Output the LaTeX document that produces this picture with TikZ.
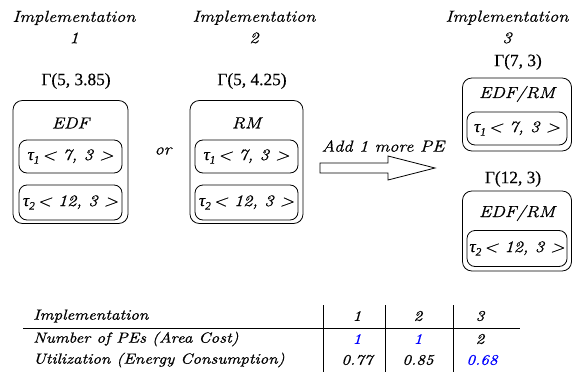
\documentclass[tikz,border=0pt]{standalone}
\usepackage{fontspec}
\usepackage{tikz}
\newfontfamily\lblfam[FakeStretch=1.15,FakeBold=0.6]{Latin Modern Roman}
\newfontfamily\grkfont[FakeBold=0.3]{Liberation Serif}
\usetikzlibrary{positioning}
\newlength{\pxu}
\setlength{\pxu}{0.75pt}
\newcommand{\lblfont}{\lblfam\fontsize{12}{16}\selectfont\itshape}
\newcommand{\tabfont}{\lblfam\fontsize{11}{12}\selectfont\itshape}
\newcommand{\gamfont}{\fontsize{13}{14}\selectfont\grkfont}
\newcommand{\gam}[2]{Γ(#1, #2)}
\newcommand{\tsk}[3]{{\grkfont\fontsize{13}{14}\selectfont τ\raisebox{-0.45ex}{\fontsize{8.5}{9}\selectfont #1}}\,\textit{< #2, #3 >}}
\newcommand{\hi}[1]{\textcolor{blue}{#1}}

\begin{document}
\begin{tikzpicture}[x=0.75pt,y=-0.75pt
  ,lbl/.style={font=\lblfont,align=center,inner sep=0pt}
  ,gam/.style={font=\gamfont,inner sep=0pt}
  ,pebox/.style={draw,semithick,rounded corners=7pt,inner sep=0pt}
  ,taskbox/.style={draw,semithick,rounded corners=6pt,inner sep=0pt,font=\lblfont}
  ,cell/.style={font=\tabfont,inner sep=0pt}]
  \useasboundingbox (0,0) rectangle (573,374);

  %% headers
  \node (i1) [lbl] at (74,27)  {Implementation\\1};
  \node (i2) [lbl] at (254,27) {Implementation\\2};
  \node (i3) [lbl] at (507,27) {Implementation\\3};

  %% implementation 1
  \node (g1) [gam] at (76,81) {\gam{5}{3.85}};
  \node (pe1) [pebox,minimum width=115\pxu,minimum height=123\pxu] at (70.5,162) {};
  \node (s1) [lbl] at (70.5,123) {EDF};
  \node (t11) [taskbox,minimum width=103\pxu,minimum height=33\pxu] at (70.5,156.5) {\tsk{1}{7}{3}};
  \node (t12) [taskbox,minimum width=103\pxu,minimum height=35\pxu] at (70.5,202.5) {\tsk{2}{12}{3}};

  \node (or) [lbl] at (163,151) {or};

  %% implementation 2
  \node (g2) [gam] at (252,81) {\gam{5}{4.25}};
  \node (pe2) [pebox,minimum width=113\pxu,minimum height=123\pxu] at (246.5,162) {};
  \node (s2) [lbl] at (246.5,123) {RM};
  \node (t21) [taskbox,minimum width=103\pxu,minimum height=33\pxu] at (246.5,156.5) {\tsk{1}{7}{3}};
  \node (t22) [taskbox,minimum width=103\pxu,minimum height=35\pxu] at (246.5,202.5) {\tsk{2}{12}{3}};

  %% the move
  \node (add) [lbl] at (383,146) {Add 1 more PE};
  \coordinate (ar) at (320,168);
  \draw [semithick] (ar) ++(0,-5) -- ++(68,0) -- ++(0,-7) -- ++(47,12)
    -- ++(-47,12) -- ++(0,-7) -- ++(-68,0) -- cycle;

  %% implementation 3
  \node (g3) [gam] at (518,62) {\gam{7}{3}};
  \node (pe3) [pebox,minimum width=109\pxu,minimum height=73\pxu] at (517,114.5) {};
  \node (s3) [lbl] at (517,94) {EDF/RM};
  \node (t31) [taskbox,minimum width=100\pxu,minimum height=33\pxu] at (517,128.5) {\tsk{1}{7}{3}};

  \node (g4) [gam] at (513,179) {\gam{12}{3}};
  \node (pe4) [pebox,minimum width=109\pxu,minimum height=80\pxu] at (517,231) {};
  \node (s4) [lbl] at (517,213) {EDF/RM};
  \node (t42) [taskbox,minimum width=100\pxu,minimum height=36\pxu] at (517,248.5) {\tsk{2}{12}{3}};

  %% table
  \draw (23,328) -- (520,328);
  \foreach \cx in {323,385,453}
    \draw (\cx,305) -- (\cx,372);
  \node (r1) [cell,anchor=west] at (33,316) {Implementation};
  \node (r2) [cell,anchor=west] at (33,339) {Number of PEs (Area Cost)};
  \node (r3) [cell,anchor=west] at (33,360) {Utilization (Energy Consumption)};
  \node (c11) [cell] at (357,316) {1};
  \node (c12) [cell] at (418,316) {2};
  \node (c13) [cell] at (480,316) {3};
  \node (c21) [cell] at (357,339) {\hi{1}};
  \node (c22) [cell] at (418,339) {\hi{1}};
  \node (c23) [cell] at (480,339) {2};
  \node (c31) [cell] at (357,360) {0.77};
  \node (c32) [cell] at (418,360) {0.85};
  \node (c33) [cell] at (482,360) {\hi{0.68}};
\end{tikzpicture}
\end{document}
